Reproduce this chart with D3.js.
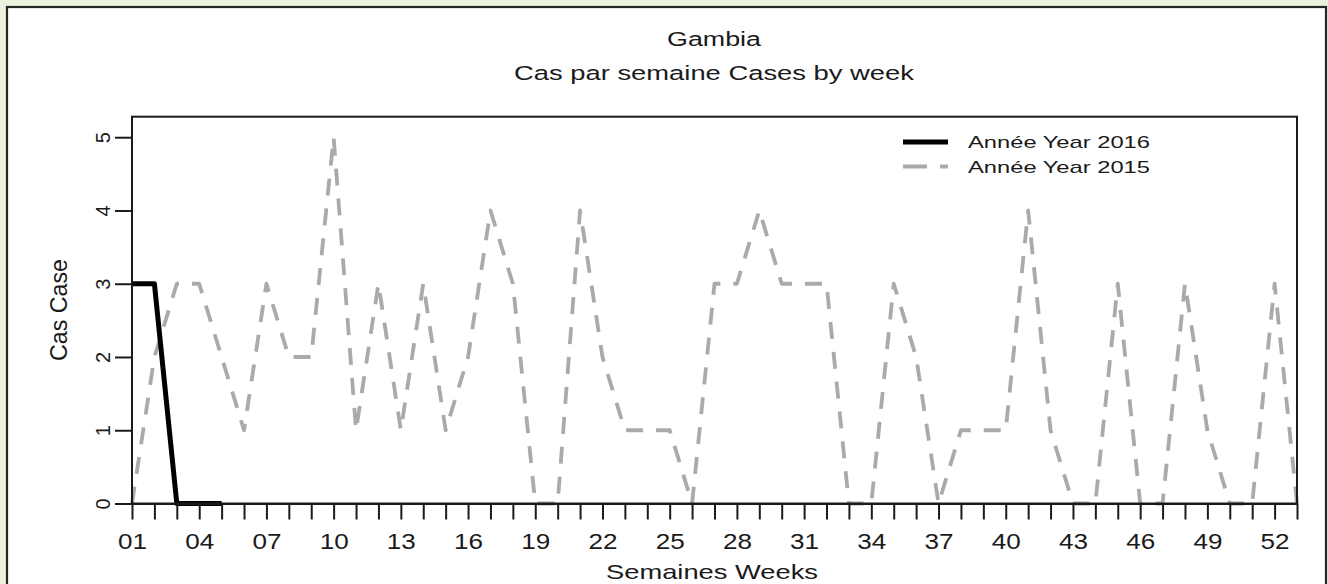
<!DOCTYPE html>
<html>
<head>
<meta charset="utf-8">
<script src="https://cdn.jsdelivr.net/npm/d3@7"></script>
<style>
  html, body { margin: 0; padding: 0; background: #eaf1dd; }
  svg { display: block; }
  text { font-family: "Liberation Sans", Arial, sans-serif; fill: #1a1a1a; }
</style>
</head>
<body>
<svg id="chart" width="1328" height="584"></svg>
<script>
// ---- Data ----
const weeks = d3.range(1, 54);
const values2015 = [0,2,3,3,2,1,3,2,2,5,1,3,1,3,1,2,4,3,0,0,4,2,1,1,1,0,3,3,4,3,3,3,0,0,3,2,0,1,1,1,4,1,0,0,3,0,0,3,1,0,0,3,0];
const weeks2016 = [1,2,3,4,5];
const values2016 = [3,3,0,0,0];
const xTickLabelWeeks = [1,4,7,10,13,16,19,22,25,28,31,34,37,40,43,46,49,52];
const yTicks = [0,1,2,3,4,5];
const titleLines = ["Gambia", "Cas par semaine Cases by week"];
const xLabel = "Semaines Weeks";
const yLabel = "Cas Case";
const legendLabels = ["Année Year 2016", "Année Year 2015"];

// ---- Layout ----
const svg = d3.select("#chart");
const plot = { left: 132, right: 1297, top: 116.7, bottom: 503.5 };

// outer white panel with frame
svg.append("rect").attr("x", 7).attr("y", 7).attr("width", 1319).attr("height", 620)
  .attr("fill", "#ffffff").attr("stroke", "#262626").attr("stroke-width", 2.2);

const x = d3.scaleLinear().domain([1, 53]).range([plot.left, plot.right]);
const y = d3.scaleLinear().domain([0, 5.28]).range([plot.bottom, plot.top]);

// titles
svg.append("text").attr("x", 714).attr("y", 45.5).attr("text-anchor", "middle")
  .attr("font-size", 20).attr("textLength", 94).attr("lengthAdjust", "spacingAndGlyphs")
  .text(titleLines[0]);
svg.append("text").attr("x", 714).attr("y", 79.5).attr("text-anchor", "middle")
  .attr("font-size", 20.5).attr("textLength", 400).attr("lengthAdjust", "spacingAndGlyphs")
  .text(titleLines[1]);

// lines
const line = d3.line().x(d => x(d[0])).y(d => y(d[1]));

svg.append("path")
  .datum(weeks.map((w, i) => [w, values2015[i]]))
  .attr("d", line)
  .attr("fill", "none").attr("stroke", "#aaaaaa").attr("stroke-width", 3.8)
  .attr("stroke-dasharray", "17,13").attr("stroke-linejoin", "round");

svg.append("path")
  .datum(weeks2016.map((w, i) => [w, values2016[i]]))
  .attr("d", line)
  .attr("fill", "none").attr("stroke", "#000000").attr("stroke-width", 5)
  .attr("stroke-linejoin", "round");

// plot box
svg.append("rect").attr("x", plot.left).attr("y", plot.top)
  .attr("width", plot.right - plot.left).attr("height", plot.bottom - plot.top)
  .attr("fill", "none").attr("stroke", "#1a1a1a").attr("stroke-width", 2);

// x axis
const xAxis = d3.axisBottom(x).tickValues(weeks).tickSize(16).tickSizeOuter(0)
  .tickFormat(d => xTickLabelWeeks.includes(d) ? d3.format("02d")(d) : "");
const gx = svg.append("g").attr("transform", `translate(0,${plot.bottom})`).call(xAxis);
gx.select(".domain").attr("stroke", "#1a1a1a").attr("stroke-width", 2);
gx.selectAll(".tick line").attr("stroke", "#1a1a1a").attr("stroke-width", 2);
gx.selectAll(".tick text").attr("y", 45).attr("dy", 0)
  .attr("font-size", 22).attr("fill", "#1a1a1a")
  .attr("font-family", "Liberation Sans, Arial, sans-serif")
  .each(function () {
    if (this.textContent) d3.select(this).attr("textLength", 29).attr("lengthAdjust", "spacingAndGlyphs");
  });

// y axis
const yAxis = d3.axisLeft(y).tickValues(yTicks).tickSize(17).tickSizeOuter(0).tickFormat(d3.format("d"));
const gy = svg.append("g").attr("transform", `translate(${plot.left},0)`).call(yAxis);
gy.select(".domain").remove();
gy.selectAll(".tick line").attr("stroke", "#1a1a1a").attr("stroke-width", 2);
gy.selectAll(".tick text").attr("x", null).attr("dy", 0).attr("text-anchor", "middle")
  .attr("transform", "translate(-22,0) rotate(-90)")
  .attr("font-size", 20).attr("fill", "#1a1a1a")
  .attr("font-family", "Liberation Sans, Arial, sans-serif");

// axis titles
svg.append("text").attr("x", 712).attr("y", 579).attr("text-anchor", "middle")
  .attr("font-size", 21).attr("textLength", 212).attr("lengthAdjust", "spacingAndGlyphs")
  .text(xLabel);
svg.append("text").attr("transform", `translate(67,310) rotate(-90)`).attr("text-anchor", "middle")
  .attr("font-size", 23).attr("textLength", 102).attr("lengthAdjust", "spacingAndGlyphs")
  .text(yLabel);

// legend
const legendRows = [
  { label: legendLabels[0], color: "#000000", width: 5, dash: null, ly: 142, ty: 148 },
  { label: legendLabels[1], color: "#aaaaaa", width: 3.8, dash: "24,13", ly: 166.5, ty: 172.5 }
];
const lg = svg.append("g");
legendRows.forEach(r => {
  lg.append("line").attr("x1", 903).attr("x2", 948).attr("y1", r.ly).attr("y2", r.ly)
    .attr("stroke", r.color).attr("stroke-width", r.width)
    .attr("stroke-dasharray", r.dash);
  lg.append("text").attr("x", 968).attr("y", r.ty).attr("font-size", 17)
    .attr("textLength", 182).attr("lengthAdjust", "spacingAndGlyphs").text(r.label);
});
</script>
</body>
</html>
